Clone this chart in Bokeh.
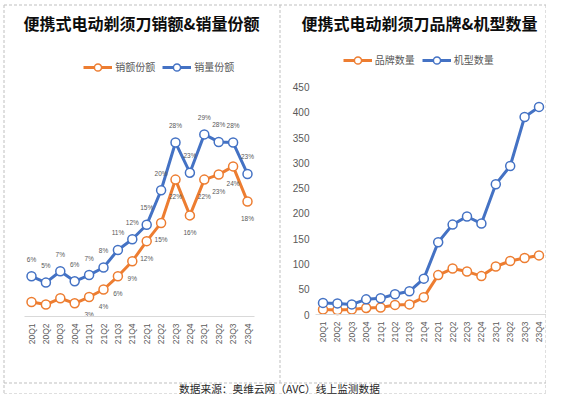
import math
from bokeh.plotting import figure
from bokeh.models import Range1d, LinearAxis, FixedTicker, Legend, LegendItem
from bokeh.core.properties import value
from bokeh.embed import file_html
from bokeh.resources import INLINE

# ---------------- data ----------------
quarters = ["20Q1", "20Q2", "20Q3", "20Q4", "21Q1", "21Q2", "21Q3", "21Q4",
            "22Q1", "22Q2", "22Q3", "22Q4", "23Q1", "23Q2", "23Q3", "23Q4"]
# left chart (% share)
sales_share = [2.3, 1.9, 2.9, 2.1, 3.1, 4.3, 6.4, 8.8, 12.0, 14.9, 21.8, 16.1, 21.8, 22.6, 23.9, 18.3]
volume_share = [6.4, 5.4, 7.2, 5.6, 6.6, 7.8, 10.6, 12.3, 14.6, 20.1, 27.7, 22.9, 29.0, 27.8, 27.7, 22.7]
sales_hidden_labels = 4  # first quarters of 销额份额 carry no data label in the source
# right chart (counts)
brand_count = [10, 9, 10, 13, 14, 19, 20, 34, 78, 91, 85, 76, 95, 106, 112, 117]
model_count = [23, 22, 20, 30, 32, 40, 46, 71, 143, 178, 194, 180, 258, 294, 391, 411]
count_ticks = [0, 50, 100, 150, 200, 250, 300, 350, 400, 450]

title_left = "便携式电动剃须刀销额&销量份额"
title_right = "便携式电动剃须刀品牌&机型数量"
source_note = "数据来源：奥维云网（AVC）线上监测数据"
left_names = ["销额份额", "销量份额"]
right_names = ["品牌数量", "机型数量"]

# ---------------- styles ----------------
ORANGE = "#ED7D31"
BLUE = "#4472C4"
GREY = "#595959"
AXIS = "#d9d9d9"
DASH = "#bfbfbf"
CJK = "Noto Sans CJK SC"
LAT = "Liberation Sans"

W, H = 546, 394

idx = list(range(len(quarters)))
sales_labels = ["" if i < sales_hidden_labels else f"{v:.0f}%" for i, v in enumerate(sales_share)]
volume_labels = [f"{v:.0f}%" for v in volume_share]


def xrange_for(zero_px, ppu):
    start = -zero_px / ppu
    return Range1d(start, start + W / ppu)


def yrange_for(zero_px_top, ppu):
    start = -(H - zero_px_top) / ppu
    return Range1d(start, start + H / ppu)


p = figure(width=W, height=H, x_range=Range1d(0, W), y_range=Range1d(H, 0),
           x_axis_type=None, y_axis_type=None, toolbar_location=None,
           output_backend="svg", min_border=0, outline_line_color=None,
           background_fill_color="white", border_fill_color="white")

p.extra_x_ranges = {"lx": xrange_for(31, 14.4), "rx": xrange_for(322.5, 14.4)}
p.extra_y_ranges = {"ly": yrange_for(316, 6.28), "ry": yrange_for(314, 0.5051)}

# ---------------- frame decorations ----------------
L, T, R, B = 3.5, 4.5, 545.5, 393.5
DIV_X, FOOT_Y = 279.5, 382.5
p.segment(x0=[L, L, L, R, DIV_X, L],
          y0=[T, B, T, T, T, FOOT_Y],
          x1=[R, R, L, R, DIV_X, R],
          y1=[T, B, B, B, FOOT_Y, FOOT_Y],
          line_color=DASH, line_width=1, line_dash="3 2")

p.text(x=[141, 419], y=[22, 22], text=[title_left, title_right],
       text_font=value(CJK), text_font_style="bold", text_font_size="16px",
       text_align="center", text_baseline="middle", text_color="#0d0d0d")
p.text(x=[279], y=[387.5], text=[source_note], text_font=value(CJK),
       text_font_size="10.7px", text_align="center", text_baseline="middle",
       text_color="#262626")


def cat_axis(rng, loc):
    ax = LinearAxis(x_range_name=rng, fixed_location=loc, bounds=(-0.5, len(quarters) - 0.5),
                    ticker=FixedTicker(ticks=idx),
                    major_label_overrides={i: q for i, q in enumerate(quarters)},
                    major_label_orientation=math.pi / 2,
                    axis_line_color=AXIS, axis_line_width=1,
                    major_tick_line_color=None, minor_tick_line_color=None,
                    major_tick_in=0, major_tick_out=0, major_label_standoff=7,
                    major_label_text_font=LAT, major_label_text_font_size="8.5px",
                    major_label_text_color=GREY)
    p.add_layout(ax, "below")
    return ax


# ---------------- left chart ----------------
cat_axis("lx", 316)
lo = p.line(idx, sales_share, x_range_name="lx", y_range_name="ly",
            line_color=ORANGE, line_width=3, line_join="round")
so = p.scatter(idx, sales_share, x_range_name="lx", y_range_name="ly", size=9,
               fill_color="white", line_color=ORANGE, line_width=1.5)
lb = p.line(idx, volume_share, x_range_name="lx", y_range_name="ly",
            line_color=BLUE, line_width=3, line_join="round")
sb = p.scatter(idx, volume_share, x_range_name="lx", y_range_name="ly", size=9,
               fill_color="white", line_color=BLUE, line_width=1.5)
p.text(idx, sales_share, text=sales_labels, x_range_name="lx", y_range_name="ly",
       y_offset=17, text_align="center", text_baseline="middle",
       text_font=value(LAT), text_font_size="6.5px", text_color=GREY)
p.text(idx, volume_share, text=volume_labels, x_range_name="lx", y_range_name="ly",
       y_offset=-17, text_align="center", text_baseline="middle",
       text_font=value(LAT), text_font_size="6.5px", text_color=GREY)

# ---------------- right chart ----------------
cat_axis("rx", 314)
yax = LinearAxis(y_range_name="ry", fixed_location=313, bounds=(0, count_ticks[-1]),
                 ticker=FixedTicker(ticks=count_ticks), axis_line_color=None,
                 major_tick_line_color=None, minor_tick_line_color=None,
                 major_tick_in=0, major_tick_out=0, major_label_standoff=4,
                 major_label_text_font=LAT, major_label_text_font_size="10px",
                 major_label_text_color=GREY)
p.add_layout(yax, "left")

ro = p.line(idx, brand_count, x_range_name="rx", y_range_name="ry",
            line_color=ORANGE, line_width=3, line_join="round")
rso = p.scatter(idx, brand_count, x_range_name="rx", y_range_name="ry", size=9,
                fill_color="white", line_color=ORANGE, line_width=1.5)
rb = p.line(idx, model_count, x_range_name="rx", y_range_name="ry",
            line_color=BLUE, line_width=3, line_join="round")
rsb = p.scatter(idx, model_count, x_range_name="rx", y_range_name="ry", size=9,
                fill_color="white", line_color=BLUE, line_width=1.5)


def make_legend(items, loc):
    leg = Legend(items=items, location=loc, orientation="horizontal",
                 glyph_width=29, glyph_height=18, label_height=18,
                 label_standoff=3, spacing=7, padding=0, margin=0,
                 border_line_color=None, background_fill_alpha=0,
                 label_text_font=CJK, label_text_font_size="10px",
                 label_text_color=GREY)
    p.add_layout(leg)


make_legend([LegendItem(label=left_names[0], renderers=[lo, so]),
             LegendItem(label=left_names[1], renderers=[lb, sb])], (83.3, H - 75.7))
make_legend([LegendItem(label=right_names[0], renderers=[ro, rso]),
             LegendItem(label=right_names[1], renderers=[rb, rsb])], (342.7, H - 68.7))

open("out.html", "w").write(file_html(p, INLINE))
